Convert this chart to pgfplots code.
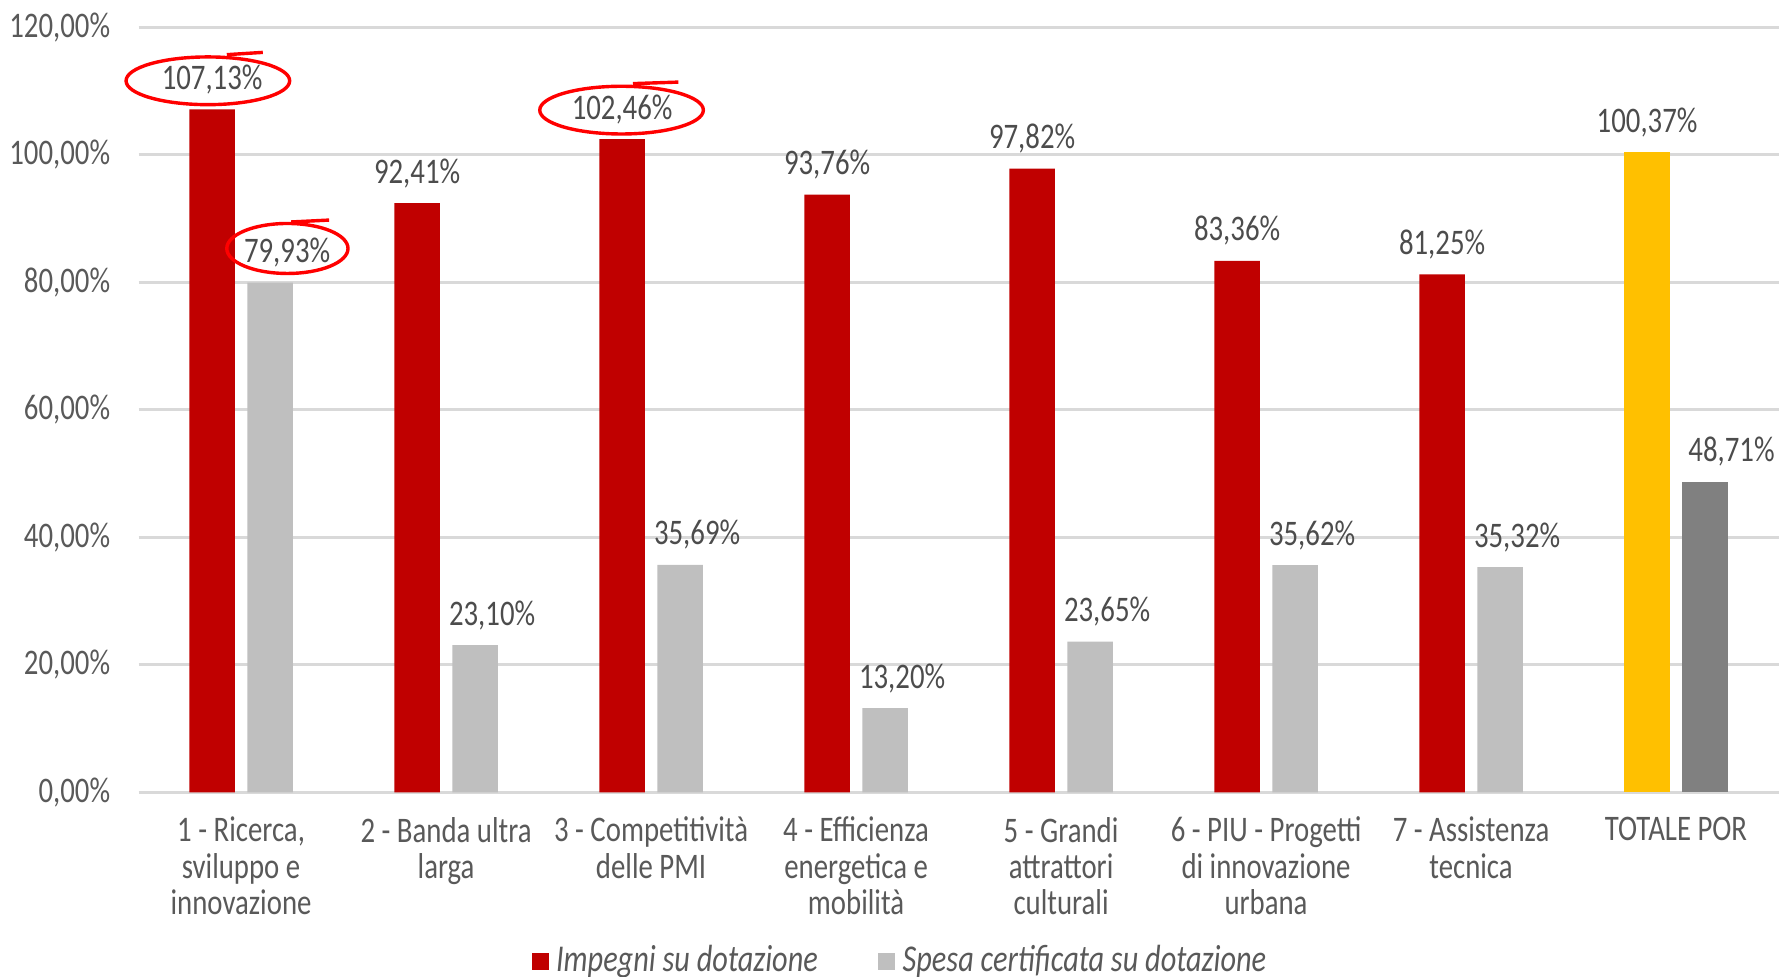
\documentclass[border=0pt]{standalone}
\usepackage{fontspec}
\setmainfont{Carlito}[FakeStretch=0.8]
\usepackage{pgfplots}
\usepackage{pgfplotstable}
\pgfplotsset{compat=1.18}

\definecolor{rosso}{HTML}{C00000}
\definecolor{grigio}{HTML}{BFBFBF}
\definecolor{giallo}{HTML}{FFC000}
\definecolor{grigioscuro}{HTML}{808080}
\definecolor{testo}{HTML}{595959}
\definecolor{griglia}{HTML}{D9D9D9}

% assi 1-7
\pgfplotstableread{
x imp spe
0 107.13 79.93
1 92.41 23.10
2 102.46 35.69
3 93.76 13.20
4 97.82 23.65
5 83.36 35.62
6 81.25 35.32
}\assi
% totale POR
\pgfplotstableread{
x imp spe
7 100.37 48.71
}\totale

\newcommand{\perc}[1]{\pgfmathprintnumber[fixed,fixed zerofill,precision=2,use comma]{#1}\%}

\begin{document}
\begin{tikzpicture}
\begin{axis}[
    scale only axis,
    width=433pt, height=202pt,
    ybar, bar width=12pt,
    xmin=-0.5, xmax=7.5,
    ymin=0, ymax=120,
    ytick={0,20,...,120},
    xtick={0,...,7},
    xticklabels={{1 - Ricerca,\\sviluppo e\\innovazione},
                 {2 - Banda ultra\\larga},
                 {3 - Competitività\\delle PMI},
                 {4 - Efficienza\\energetica e\\mobilità},
                 {5 - Grandi\\attrattori\\culturali},
                 {6 - PIU - Progetti\\di innovazione\\urbana},
                 {7 - Assistenza\\tecnica},
                 {TOTALE POR}},
    /pgf/number format/assume math mode=true,
    yticklabel={\perc{\tick}},
    axis line style={draw=none},
    major tick length=0pt,
    ymajorgrids,
    grid style={draw=griglia, line width=0.8pt},
    tick label style={text=testo, font=\fontsize{9.5}{9.6}\selectfont},
    xticklabel style={align=center, yshift=-3pt},
    yticklabel style={xshift=-4pt},
    clip=false,
    nodes near coords={\perc{\pgfplotspointmeta}},
    every node near coord/.append style={text=testo!85!black,
        font=\fontsize{9.5}{11}\selectfont, yshift=0.5pt},
    legend style={at={(0.466,-0.221)}, anchor=center, draw=none,
        legend columns=2, font=\itshape\fontsize{10}{12}\selectfont,
        text=testo,
        /tikz/every even column/.append style={column sep=14pt}},
]
\addplot[fill=rosso, draw=none, bar shift=-7.65pt,
    legend image code/.code={\fill[rosso] (0pt,-2.3pt) rectangle (4.4pt,2.1pt);}]
    table[x=x, y=imp] {\assi};
\addlegendentry{Impegni su dotazione}
\addplot[fill=grigio, draw=none, bar shift=7.65pt,
    every node near coord/.append style={xshift=4.5pt},
    legend image code/.code={\fill[grigio] (0pt,-2.3pt) rectangle (4.4pt,2.1pt);}]
    table[x=x, y=spe] {\assi};
\addlegendentry{Spesa certificata su dotazione}
\addplot[fill=giallo, draw=none, bar shift=-7.65pt, forget plot]
    table[x=x, y=imp] {\totale};
\addplot[fill=grigioscuro, draw=none, bar shift=7.65pt, forget plot,
    every node near coord/.append style={xshift=7pt}]
    table[x=x, y=spe] {\totale};

% cerchiature a mano
\draw[red, line width=0.9pt] (axis cs:-0.162,111.6) ellipse [x radius=21.6pt, y radius=6.3pt];
\draw[red, line width=0.9pt] ([shift={(5pt,6.9pt)}]axis cs:-0.162,111.6) -- ++(9.5pt,0.6pt);
\draw[red, line width=0.9pt] (axis cs:0.226,85.3) ellipse [x radius=16pt, y radius=6.6pt];
\draw[red, line width=0.9pt] ([shift={(1pt,7pt)}]axis cs:0.226,85.3) -- ++(10pt,0.5pt);
\draw[red, line width=0.9pt] (axis cs:1.856,107.0) ellipse [x radius=21.6pt, y radius=6.3pt];
\draw[red, line width=0.9pt] ([shift={(3pt,7pt)}]axis cs:1.856,107.0) -- ++(12pt,0.4pt);

\coordinate (bl) at (rel axis cs:-0.0845,-0.2404);
\coordinate (tr) at (rel axis cs:1.0021,1.0356);
\end{axis}
\pgfresetboundingbox
\path (bl) rectangle (tr);
\end{tikzpicture}
\end{document}
